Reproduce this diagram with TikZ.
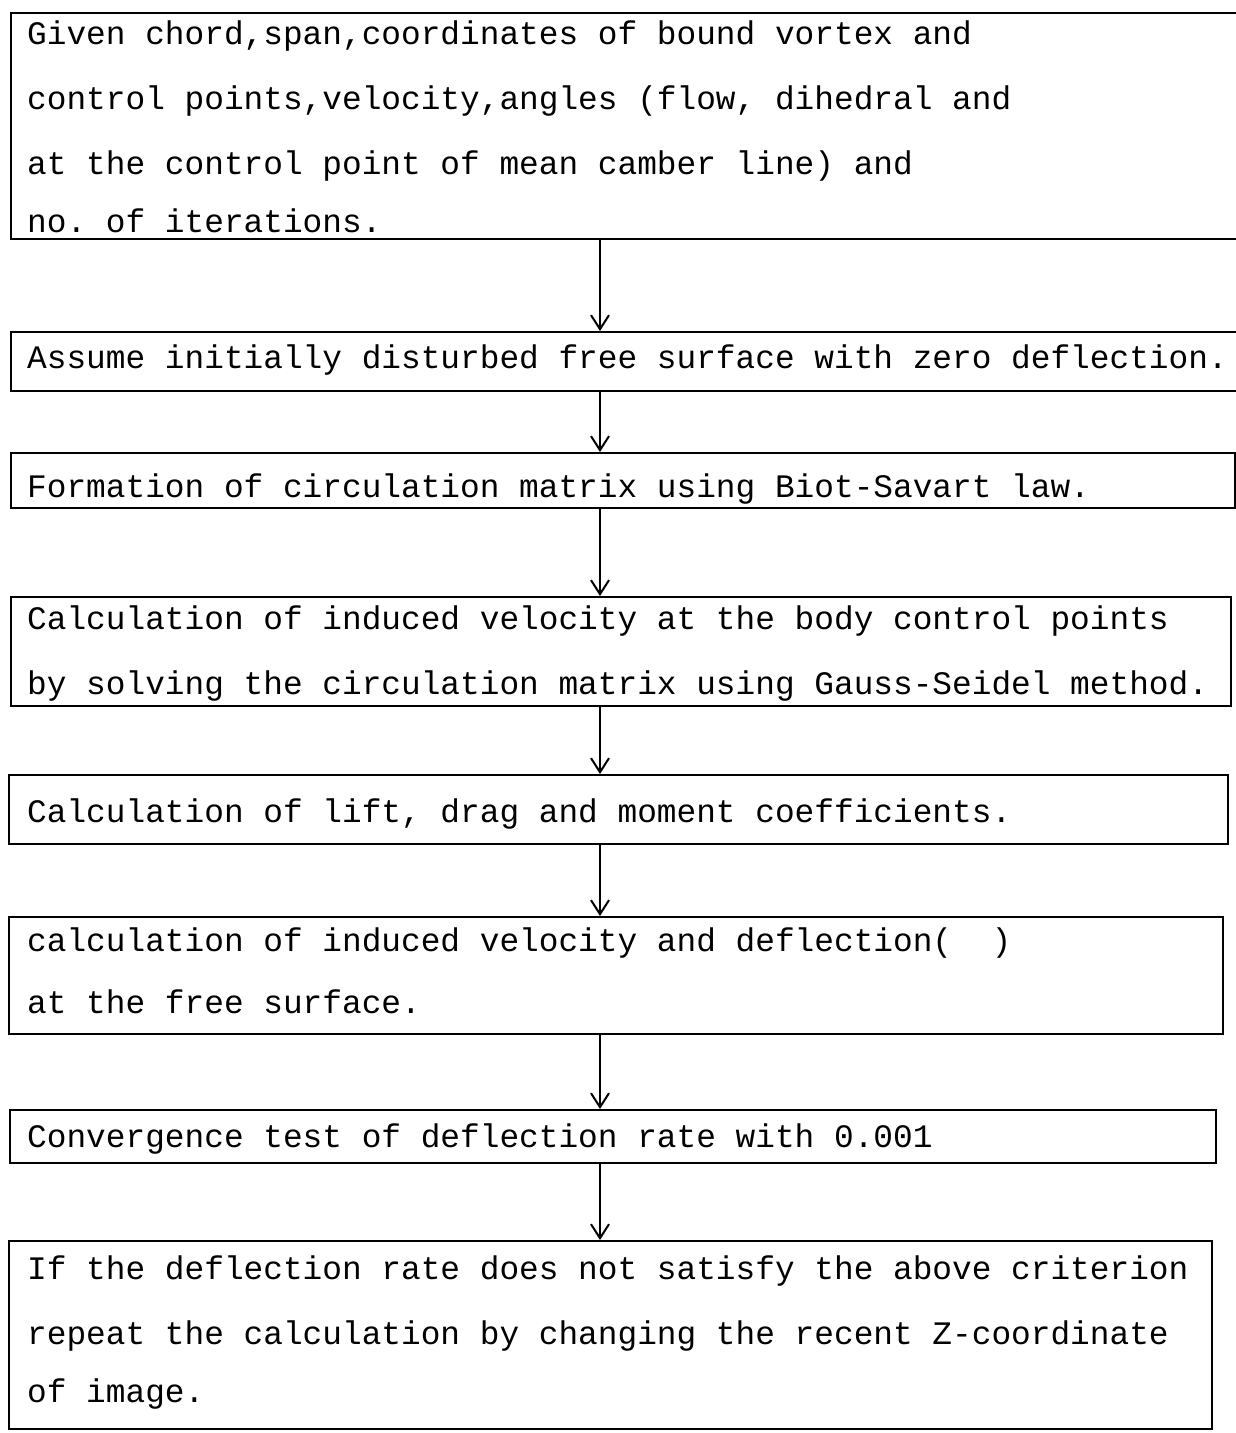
\documentclass[tikz,border=0pt]{standalone}
\usepackage{fontspec}
\setmonofont{Liberation Mono}
\usetikzlibrary{arrows.meta}
\begin{document}
\begin{tikzpicture}[x=1pt,y=-1pt,
  box/.style={draw, line width=2.2pt, rectangle, inner sep=0pt, anchor=north west},
  txt/.style={anchor=base west, inner sep=0pt, font=\ttfamily\fontsize{32.8pt}{36pt}\selectfont},
  flow/.style={-{Straight Barb[length=14pt,width=18pt,line width=2pt]}, line width=2pt}]
\useasboundingbox[fill=white] (0,0) rectangle (1236,1433);
% boxes
\node[box, minimum width=1260pt, minimum height=226pt] (b1) at (10,12) {};
\node[box, minimum width=1260pt, minimum height=59pt] (b2) at (10,331) {};
\node[box, minimum width=1224pt, minimum height=55pt] (b3) at (10,452) {};
\node[box, minimum width=1220pt, minimum height=109pt] (b4) at (10,596) {};
\node[box, minimum width=1219pt, minimum height=69pt] (b5) at (8,774) {};
\node[box, minimum width=1214pt, minimum height=117pt] (b6) at (8,916) {};
\node[box, minimum width=1206pt, minimum height=53pt] (b7) at (9,1109) {};
\node[box, minimum width=1203pt, minimum height=188pt] (b8) at (8,1240) {};
% texts
\node[txt] (t1a) at (27,44) {Given chord,span,coordinates of bound vortex and};
\node[txt] (t1b) at (27,109) {control points,velocity,angles (flow, dihedral and};
\node[txt] (t1c) at (27,174) {at the control point of mean camber line) and};
\node[txt] (t1d) at (27,232) {no. of iterations.};
\node[txt] (t2) at (27,368) {Assume initially disturbed free surface with zero deflection.};
\node[txt] (t3) at (27,497) {Formation of circulation matrix using Biot-Savart law.};
\node[txt] (t4a) at (27,629) {Calculation of induced velocity at the body control points};
\node[txt] (t4b) at (27,694) {by solving the circulation matrix using Gauss-Seidel method.};
\node[txt] (t5) at (27,822) {Calculation of lift, drag and moment coefficients.};
\node[txt] (t6a) at (27,951) {calculation of induced velocity and deflection(~~)};
\node[txt] (t6b) at (27,1013) {at the free surface.};
\node[txt] (t7) at (27,1147) {Convergence test of deflection rate with 0.001};
\node[txt] (t8a) at (27,1279) {If the deflection rate does not satisfy the above criterion};
\node[txt] (t8b) at (27,1344) {repeat the calculation by changing the recent Z-coordinate};
\node[txt] (t8c) at (27,1402) {of image.};
% connectors
\coordinate (ax) at (600,0);
\draw[flow] (b1.south -| ax) -- (b2.north -| ax);
\draw[flow] (b2.south -| ax) -- (b3.north -| ax);
\draw[flow] (b3.south -| ax) -- (b4.north -| ax);
\draw[flow] (b4.south -| ax) -- (b5.north -| ax);
\draw[flow] (b5.south -| ax) -- (b6.north -| ax);
\draw[flow] (b6.south -| ax) -- (b7.north -| ax);
\draw[flow] (b7.south -| ax) -- (b8.north -| ax);
\end{tikzpicture}
\end{document}
